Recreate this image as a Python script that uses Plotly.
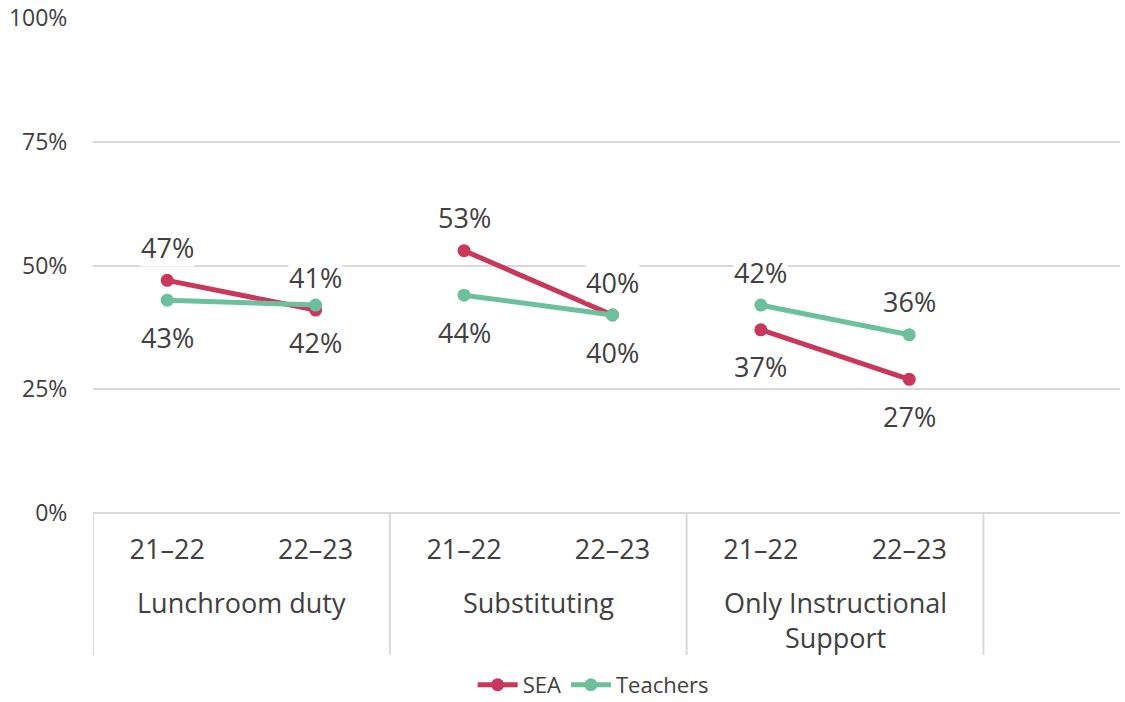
import plotly.graph_objects as go

# Data
groups = ["Lunchroom duty", "Substituting", "Only Instructional<br>Support"]
years = ["21–22", "22–23"]
sea = [47, 41, 53, 40, 37, 27]
teachers = [43, 42, 44, 40, 42, 36]
# label placement per group: SEA above/below, teachers opposite
sea_label_side = ["above", "above", "below"]

RED = "#C9375B"
GREEN = "#6CC09C"
TEXT = "#404040"
GRID = "#D9D9D9"
FONT = "Open Sans, sans-serif"

n_groups = len(groups)
xs = []
for g in range(n_groups):
    xs += [2 * g, 2 * g + 1]


def with_gaps(vals):
    x_out, y_out = [], []
    for g in range(n_groups):
        x_out += [xs[2 * g], xs[2 * g + 1], None]
        y_out += [vals[2 * g], vals[2 * g + 1], None]
    return x_out[:-1], y_out[:-1]


fig = go.Figure()
for name, vals, color in [("SEA", sea, RED), ("Teachers", teachers, GREEN)]:
    gx, gy = with_gaps(vals)
    fig.add_trace(go.Scatter(
        x=gx, y=gy, name=name, mode="lines+markers",
        line=dict(color=color, width=5), marker=dict(color=color, size=13),
        connectgaps=False,
    ))

# data labels
for g in range(n_groups):
    sea_up = sea_label_side[g] == "above"
    for k in range(2):
        i = 2 * g + k
        for vals, up in [(sea, sea_up), (teachers, not sea_up)]:
            fig.add_annotation(
                x=xs[i], y=vals[i], text=f"{vals[i]}%", showarrow=False,
                yshift=33 if up else -37, bgcolor="white", borderpad=0,
                font=dict(size=27, color=TEXT, family=FONT),
            )

# group names under the year ticks
for g in range(n_groups):
    fig.add_annotation(
        x=2 * g + 0.5, y=0, xref="x", yref="y", text=groups[g],
        showarrow=False, yanchor="top", yshift=-69,
        font=dict(size=27, color=TEXT, family=FONT),
    )

# category separators below the axis
for b in [-0.5, 1.5, 3.5, 5.5]:
    fig.add_shape(type="line", xref="x", yref="paper", x0=b, x1=b,
                  y0=0, y1=-0.287, line=dict(color=GRID, width=2))

fig.update_layout(
    width=1125, height=702,
    margin=dict(l=93, r=5, t=18, b=189, autoexpand=False),
    paper_bgcolor="white", plot_bgcolor="white",
    font=dict(family=FONT, color=TEXT, size=22),
    showlegend=True,
    legend=dict(orientation="h", x=0.487, xanchor="center",
                y=-0.305, yanchor="top", itemwidth=40,
                font=dict(size=22, color=TEXT, family=FONT)),
)
fig.update_xaxes(
    range=[-0.5, 6.42], tickvals=xs, ticktext=years * n_groups,
    showgrid=False, zeroline=False, showline=False, automargin=False,
    ticks="outside", ticklen=13, tickcolor="white",
    tickfont=dict(size=27, color=TEXT, family=FONT),
)
fig.update_yaxes(
    range=[0, 100], tickvals=[0, 25, 50, 75, 100],
    ticktext=["0%", "25%", "50%", "75%", "100%"], automargin=False,
    showgrid=True, gridcolor=GRID, gridwidth=2,
    zeroline=True, zerolinecolor=GRID, zerolinewidth=2,
    ticks="outside", ticklen=20, tickcolor="white",
    tickfont=dict(size=23, color=TEXT, family=FONT),
)

fig.write_html("out.html")
